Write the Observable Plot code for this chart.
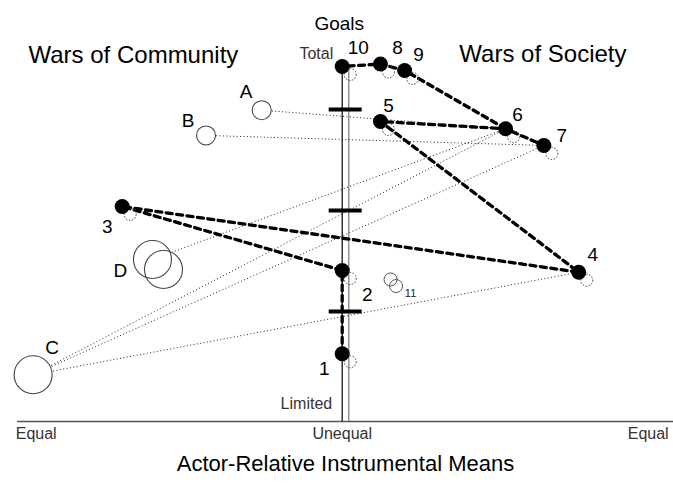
<!DOCTYPE html>
<html>
<head>
<meta charset="utf-8">
<script src="https://cdn.jsdelivr.net/npm/d3@7"></script>
<script src="https://cdn.jsdelivr.net/npm/@observablehq/plot@0.6"></script>
<style>
  html, body { margin: 0; padding: 0; background: #fff; }
  #chart svg { display: block; }
</style>
</head>
<body>
<div id="chart"></div>
<script>
// ---- Data ----
// Numbered wars: x = actor-relative instrumental means (-1 equal, 0 unequal, +1 equal), y = goals
const warIds   = ["1", "2", "3", "4", "5", "6", "7", "8", "9", "10"];
const warMeans = [0, 0, -0.719, 0.773, 0.125, 0.534, 0.659, 0.125, 0.204, 0];
const warGoals = [0.581, 1.406, 2.040, 1.389, 2.881, 2.809, 2.644, 3.45, 3.386, 3.426];

// Dashed trajectories through the wars
const pathOne = ["1", "2", "3", "4", "5", "6", "7"];
const pathTwo = ["6", "9", "8", "10"];

// Lettered groups (open circles)
const groupIds   = ["A", "B", "C", "D", "D"];
const groupMeans = [-0.263, -0.445, -1.010, -0.620, -0.584];
const groupGoals = [2.993, 2.743, 0.374, 1.515, 1.416];
const groupBig   = [false, false, true, true, true];

// Dotted links: group -> war
const linkFrom = ["A", "B", "C", "C", "C", "D"];
const linkTo   = ["6", "7", "6", "7", "4", "6"];

// Case 11 (two small open circles)
const extraMeans = [0.158, 0.176];
const extraGoals = [1.317, 1.252];

// Goal-axis tick bars and means-axis labels
const goalTicks = [1, 2, 3];
const meansTicks = [-1, 0, 1];
const meansTickLabels = ["Equal", "Unequal", "Equal"];

// ---- Build rows ----
const wars = warIds.map((id, i) => ({id, x: warMeans[i], y: warGoals[i]}));
const warById = Object.fromEntries(wars.map(d => [d.id, d]));
const groups = groupIds.map((id, i) => ({id, x: groupMeans[i], y: groupGoals[i], big: groupBig[i]}));
const groupById = {};
groups.forEach(g => { if (!groupById[g.id]) groupById[g.id] = g; });
const links = linkFrom.map((g, i) => ({
  x1: groupById[g].x, y1: groupById[g].y,
  x2: warById[linkTo[i]].x, y2: warById[linkTo[i]].y
}));
const pathRows = [
  ...pathOne.map(id => ({...warById[id], path: "one"})),
  ...pathTwo.map(id => ({...warById[id], path: "two"}))
];
const extras = extraMeans.map((x, i) => ({x, y: extraGoals[i]}));

// ---- Styling ----
const yDom = [-0.0891, 4.079];
const xDom = [-1.0611, 1.0827];
const totalGoal = warById["10"].y;

const warLabelOffset = {
  "1": [-18, 15], "2": [25, 24], "3": [-15, 20], "4": [14, -17], "5": [8, -16],
  "6": [12, -14], "7": [18, -10], "8": [17, -16], "9": [14, -16], "10": [16, -19]
};
const groupLabelOffset = {"A": [-15.5, -18], "B": [-18, -14.5], "C": [19, -26.5], "D": [-32, 11.5]};

const warLabels = wars.map(d => Plot.text([d], {
  x: "x", y: "y", text: "id", dx: warLabelOffset[d.id][0], dy: warLabelOffset[d.id][1],
  fontSize: 19, fill: "black"
}));
const groupLabels = Object.values(groupById).map(d => Plot.text([d], {
  x: "x", y: "y", text: "id", dx: groupLabelOffset[d.id][0], dy: groupLabelOffset[d.id][1],
  fontSize: 19, fill: "black"
}));

const chart = Plot.plot({
  width: 673,
  height: 483,
  marginTop: 0,
  marginBottom: 62,
  marginLeft: 17,
  marginRight: 0,
  style: {fontFamily: "'Liberation Sans', Arial, sans-serif", background: "white", color: "black"},
  x: {domain: xDom, axis: null},
  y: {domain: yDom, axis: null},
  r: {type: "identity"},
  marks: [
    // baseline (means axis)
    Plot.ruleY([yDom[0]], {stroke: "#555", strokeWidth: 1.5}),
    // goals axis: double vertical line
    Plot.ruleX([0], {y1: yDom[0], y2: totalGoal, stroke: "black", strokeWidth: 1.2}),
    Plot.ruleX([0], {y1: yDom[0], y2: totalGoal, dx: 6.6, stroke: "#777", strokeWidth: 1.2}),
    // tick bars
    Plot.ruleY(goalTicks, {x1: 0, x2: 0, insetLeft: -13, insetRight: -20, stroke: "black", strokeWidth: 4}),
    // dotted links from groups
    Plot.link(links, {x1: "x1", y1: "y1", x2: "x2", y2: "y2", stroke: "#222", strokeWidth: 1, strokeDasharray: "1,2.4"}),
    // dashed trajectories
    Plot.line(pathRows, {x: "x", y: "y", z: "path", stroke: "black", strokeWidth: 3.3, strokeDasharray: "6,4.5"}),
    // group circles
    Plot.dot(groups, {x: "x", y: "y", r: d => d.big ? 19 : 9.5, fill: "white", stroke: "none"}),
    Plot.dot(groups, {x: "x", y: "y", r: d => d.big ? 19 : 9.5, fill: "none", stroke: "#444", strokeWidth: 1.1}),
    // case 11
    Plot.dot(extras, {x: "x", y: "y", r: 6.5, fill: "none", stroke: "#555", strokeWidth: 1}),
    Plot.text([0], {x: extras[0].x, y: extras[0].y, text: () => "11", dx: 20, dy: 14, fontSize: 11, fill: "#222"}),
    // dotted offset circles behind filled wars
    Plot.dot(wars, {x: "x", y: "y", r: 6, dx: 8, dy: 8, fill: "none", stroke: "#444", strokeWidth: 1, strokeDasharray: "1.5,1.5"}),
    Plot.dot(wars, {x: "x", y: "y", r: 7.5, fill: "black", stroke: "none"}),
    ...warLabels,
    ...groupLabels,
    // axis annotations
    Plot.text(["Goals"], {x: 0, frameAnchor: "top", dx: -3, dy: 16, fontSize: 19, fill: "black"}),
    Plot.text(["Total"], {x: 0, y: totalGoal, textAnchor: "end", dx: -9, dy: -13, fontSize: 16, fill: "#333"}),
    Plot.text(["Limited"], {x: 0, y: yDom[0], textAnchor: "end", dx: -10, dy: -18, fontSize: 16, fill: "#333"}),
    Plot.text(meansTicks, {x: d => d, text: (d, i) => meansTickLabels[i], frameAnchor: "bottom", dy: 17, fontSize: 16, fill: "#333"}),
    Plot.text(["Actor-Relative Instrumental Means"], {frameAnchor: "bottom", dy: 49, fontSize: 22, fill: "black"}),
    Plot.text(["Wars of Community"], {frameAnchor: "top-left", textAnchor: "start", dx: 11, dy: 45, fontSize: 24, fill: "black"}),
    Plot.text(["Wars of Society"], {frameAnchor: "top-right", textAnchor: "end", dx: -47, dy: 44, fontSize: 24, fill: "black"})
  ]
});
document.getElementById("chart").appendChild(chart);
</script>
</body>
</html>
